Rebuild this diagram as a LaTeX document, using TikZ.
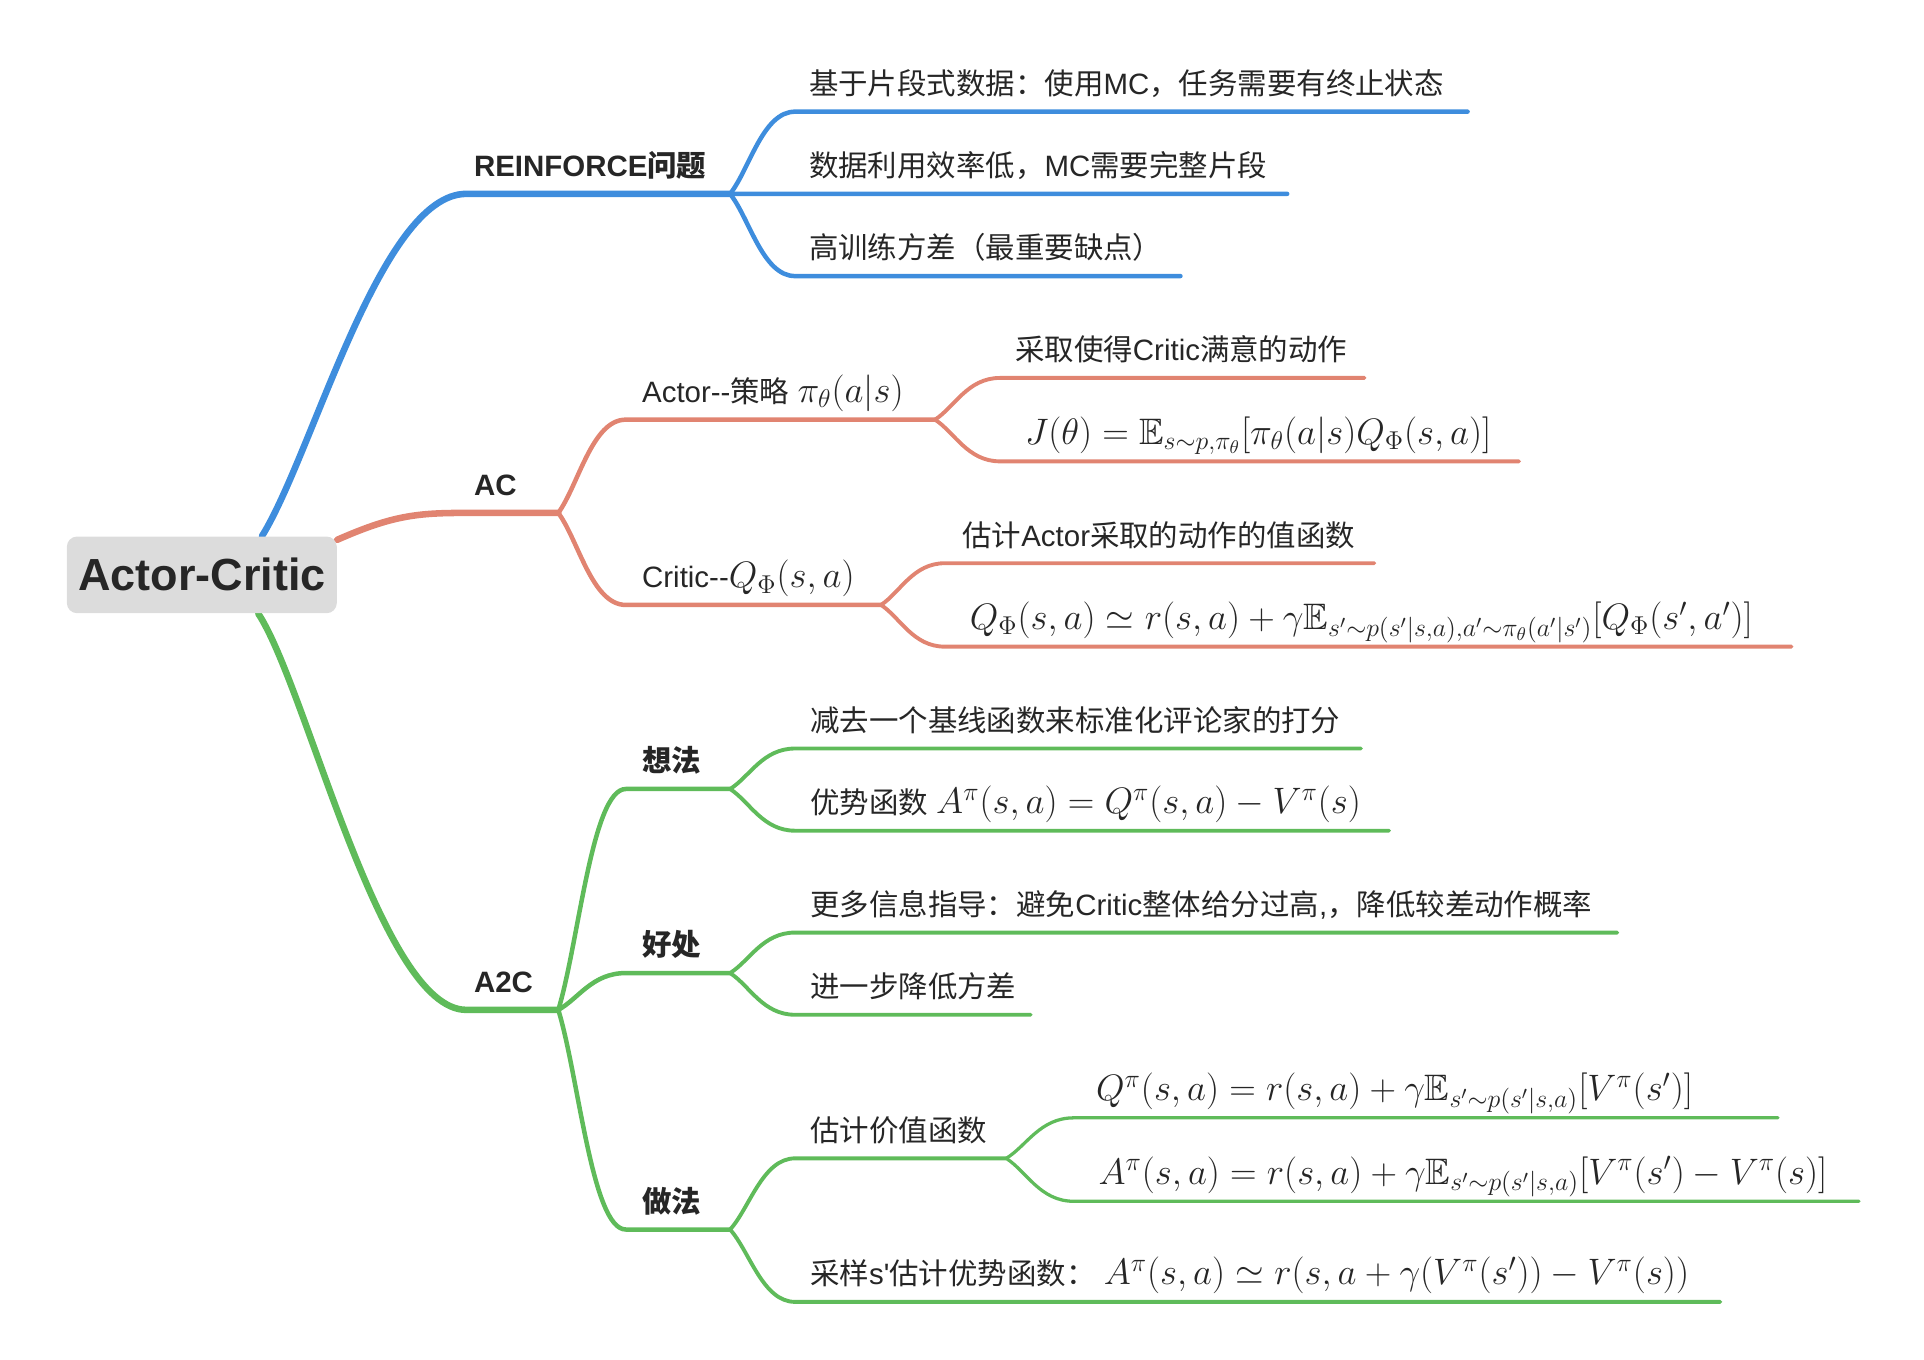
\RequirePackage{fix-cm}
\documentclass[tikz,border=0pt]{standalone}
\usepackage{amssymb}
\usepackage{fontspec}
\setmainfont{Liberation Sans}
\newfontfamily\cjk{Noto Sans CJK SC}
\usetikzlibrary{calc,backgrounds}
\definecolor{rfblue}{RGB}{62,141,221}
\definecolor{acred}{RGB}{225,132,113}
\definecolor{atwo}{RGB}{95,187,90}
\definecolor{rootgray}{RGB}{220,220,220}
\definecolor{ink}{RGB}{38,38,38}
\newcommand{\zh}[1]{{\cjk #1}}
\newcommand{\fm}[1]{{\fontsize{18}{21}\selectfont$#1$}}
\tikzset{
  fork/.style={to path={.. controls ($(\tikztostart)!.3!(\tikztotarget)$) and ($(\tikztostart |- \tikztotarget)!.5!(\tikztotarget)$) .. (\tikztotarget)}},
  lvlone/.style={line width=3.2pt, line cap=round},
  lvltwo/.style={line width=2.2pt, line cap=round},
  lvlthree/.style={line width=1.9pt, line cap=round},
  lvlfour/.style={line width=1.6pt, line cap=round},
  topic/.style={anchor=base west, inner sep=0pt, text=ink, font=\fontsize{14.4}{17}\selectfont\bfseries},
  leaf/.style={anchor=base west, inner sep=0pt, text=ink, font=\fontsize{14.4}{17}\selectfont},
}
\begin{document}
\begin{tikzpicture}[x=0.6pt, y=-0.6pt]
  \useasboundingbox (0,0) rectangle (1568,1108);
  % central topic
  \node[fill=rootgray, rounded corners=5pt, minimum width=132pt, minimum height=37.5pt, inner sep=0pt,
        text=ink, font=\fontsize{22}{26}\selectfont\bfseries] (root) at (164.5,468.5) {Actor-Critic};

  % line ends of every topic
  \coordinate (rf-s) at (380,158);   \coordinate (rf-e) at (595,158);
  \coordinate (b1-s) at (648,91);    \coordinate (b1-e) at (1196,91);
  \coordinate (b2-s) at (648,158);   \coordinate (b2-e) at (1049,158);
  \coordinate (b3-s) at (648,225);   \coordinate (b3-e) at (962,225);
  \coordinate (ac-s) at (380,418);   \coordinate (ac-e) at (455,418);
  \coordinate (act-s) at (510,342);  \coordinate (act-e) at (762,342);
  \coordinate (a1-s) at (815,308);   \coordinate (a1-e) at (1112,308);
  \coordinate (a2-s) at (815,376);   \coordinate (a2-e) at (1238,376);
  \coordinate (cri-s) at (510,493);  \coordinate (cri-e) at (718,493);
  \coordinate (c1-s) at (770,459);   \coordinate (c1-e) at (1120,459);
  \coordinate (c2-s) at (770,527);   \coordinate (c2-e) at (1460,527);
  \coordinate (a2c-s) at (380,823);  \coordinate (a2c-e) at (455,823);
  \coordinate (idea-s) at (510,643); \coordinate (idea-e) at (595,643);
  \coordinate (i1-s) at (648,610);   \coordinate (i1-e) at (1109,610);
  \coordinate (i2-s) at (648,677);   \coordinate (i2-e) at (1132,677);
  \coordinate (gain-s) at (510,793); \coordinate (gain-e) at (595,793);
  \coordinate (g1-s) at (648,760);   \coordinate (g1-e) at (1318,760);
  \coordinate (g2-s) at (648,827);   \coordinate (g2-e) at (840,827);
  \coordinate (how-s) at (510,1002); \coordinate (how-e) at (595,1002);
  \coordinate (est-s) at (648,944);  \coordinate (est-e) at (820,944);
  \coordinate (e1-s) at (875,911);   \coordinate (e1-e) at (1449,911);
  \coordinate (e2-s) at (875,979);   \coordinate (e2-e) at (1515,979);
  \coordinate (smp-s) at (648,1061); \coordinate (smp-e) at (1402,1061);

  % main branches
  \begin{pgfonlayer}{background}
    \draw[rfblue, lvlone] ($(root.north)+(49,0)$) .. controls (255,370) and (310,158) .. (rf-s) -- (rf-e);
    \draw[acred, lvlone] ($(root.north east)+(0,3)$) .. controls (320,420) and (340,418) .. (ac-s) -- (ac-e);
    \draw[atwo, lvlone] ($(root.south)+(46,0)$) .. controls (250,560) and (310,823) .. (a2c-s) -- (a2c-e);
  \end{pgfonlayer}

  % REINFORCE
  \draw[rfblue, lvltwo] (rf-e) to[fork] (b1-s) -- (b1-e);
  \draw[rfblue, lvltwo] (rf-e) to[fork] (b2-s) -- (b2-e);
  \draw[rfblue, lvltwo] (rf-e) to[fork] (b3-s) -- (b3-e);

  % AC
  \draw[acred, lvltwo] (ac-e) to[fork] (act-s) -- (act-e);
  \draw[acred, lvltwo] (ac-e) to[fork] (cri-s) -- (cri-e);
  \draw[acred, lvlthree] (act-e) to[fork] (a1-s) -- (a1-e);
  \draw[acred, lvlthree] (act-e) to[fork] (a2-s) -- (a2-e);
  \draw[acred, lvlthree] (cri-e) to[fork] (c1-s) -- (c1-e);
  \draw[acred, lvlthree] (cri-e) to[fork] (c2-s) -- (c2-e);

  % A2C
  \draw[atwo, lvltwo] (a2c-e) to[fork] (idea-s) -- (idea-e);
  \draw[atwo, lvltwo] (a2c-e) to[fork] (gain-s) -- (gain-e);
  \draw[atwo, lvltwo] (a2c-e) to[fork] (how-s) -- (how-e);
  \draw[atwo, lvlthree] (idea-e) to[fork] (i1-s) -- (i1-e);
  \draw[atwo, lvlthree] (idea-e) to[fork] (i2-s) -- (i2-e);
  \draw[atwo, lvlthree] (gain-e) to[fork] (g1-s) -- (g1-e);
  \draw[atwo, lvlthree] (gain-e) to[fork] (g2-s) -- (g2-e);
  \draw[atwo, lvlthree] (how-e) to[fork] (est-s) -- (est-e);
  \draw[atwo, lvlthree] (how-e) to[fork] (smp-s) -- (smp-e);
  \draw[atwo, lvlfour] (est-e) to[fork] (e1-s) -- (e1-e);
  \draw[atwo, lvlfour] (est-e) to[fork] (e2-s) -- (e2-e);

  % labels
  \node[topic] (rf) at (386,144) {REINFORCE\zh{问题}};
  \node[leaf] (b1) at (659,77) {\zh{基于片段式数据：使用}MC\zh{，任务需要有终止状态}};
  \node[leaf] (b2) at (659,144) {\zh{数据利用效率低，}MC\zh{需要完整片段}};
  \node[leaf] (b3) at (659,211) {\zh{高训练方差（最重要缺点）}};

  \node[topic] (ac) at (386,404) {AC};
  \node[leaf] (act) at (523,328) {Actor-{}-\zh{策略} \fm{\pi_\theta(a|s)}};
  \node[leaf] (a1) at (827,294) {\zh{采取使得}Critic\zh{满意的动作}};
  \node[leaf] (a2) at (835,362) {\fm{J(\theta)=\mathbb{E}_{s\sim p,\pi_\theta}[\pi_\theta(a|s)Q_\Phi(s,a)]}};
  \node[leaf] (cri) at (523,479) {Critic-{}-\fm{Q_\Phi(s,a)}};
  \node[leaf] (c1) at (784,445) {\zh{估计}Actor\zh{采取的动作的值函数}};
  \node[leaf] (c2) at (790,513) {\fm{Q_\Phi(s,a)\simeq r(s,a)+\gamma\mathbb{E}_{s'\sim p(s'|s,a),a'\sim\pi_\theta(a'|s')}[Q_\Phi(s',a')]}};

  \node[topic] (a2c) at (386,809) {A2C};
  \node[topic] (idea) at (523,629) {\zh{想法}};
  \node[leaf] (i1) at (660,596) {\zh{减去一个基线函数来标准化评论家的打分}};
  \node[leaf] (i2) at (660,663) {\zh{优势函数} \fm{A^\pi(s,a)=Q^\pi(s,a)-V^\pi(s)}};
  \node[topic] (gain) at (523,779) {\zh{好处}};
  \node[leaf] (g1) at (660,746) {\zh{更多信息指导：避免}Critic\zh{整体给分过高},\zh{，降低较差动作概率}};
  \node[leaf] (g2) at (660,813) {\zh{进一步降低方差}};
  \node[topic] (how) at (523,988) {\zh{做法}};
  \node[leaf] (est) at (660,930) {\zh{估计价值函数}};
  \node[leaf] (e1) at (893,897) {\fm{Q^\pi(s,a)=r(s,a)+\gamma\mathbb{E}_{s'\sim p(s'|s,a)}[V^\pi(s')]}};
  \node[leaf] (e2) at (895,965) {\fm{A^\pi(s,a)=r(s,a)+\gamma\mathbb{E}_{s'\sim p(s'|s,a)}[V^\pi(s')-V^\pi(s)]}};
  \node[leaf] (smp) at (660,1047) {\zh{采样}s\textquotesingle\zh{估计优势函数：} \fm{A^\pi(s,a)\simeq r(s,a+\gamma(V^\pi(s'))-V^\pi(s))}};
\end{tikzpicture}
\end{document}
